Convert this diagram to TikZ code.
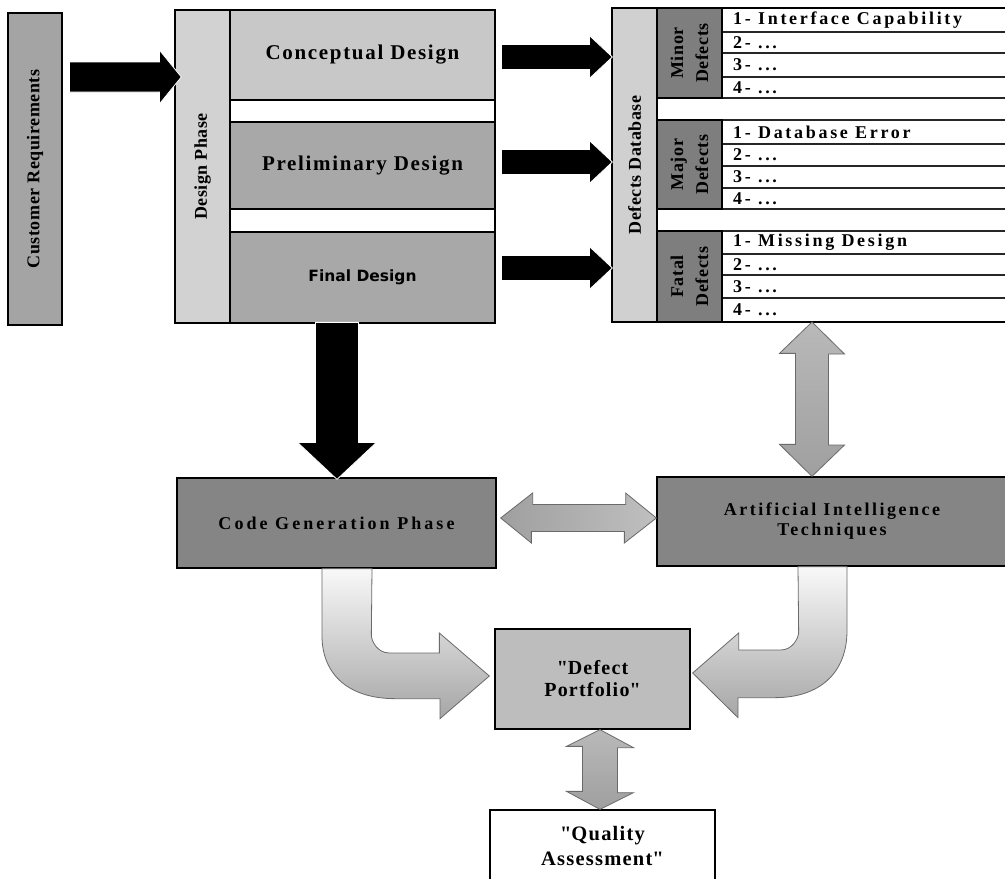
\documentclass[tikz,border=0pt]{standalone}
\usepackage{fontspec}
\setmainfont{Liberation Serif}
\newfontfamily\finalfont{DejaVu Sans}
\usetikzlibrary{calc}
\newcommand{\sq}{\XeTeXglyph\XeTeXcharglyph"22\relax}
\definecolor{crgray}{HTML}{A4A4A4}
\definecolor{lightcol}{HTML}{D2D2D2}
\definecolor{concol}{HTML}{C8C8C8}
\definecolor{midcol}{HTML}{A8A8A8}
\definecolor{darkcol}{HTML}{7E7E7E}
\definecolor{cgcol}{HTML}{858585}
\definecolor{pfcol}{HTML}{BDBDBD}
\definecolor{edgecol}{HTML}{6A6A6A}
\tikzset{
  box/.style={draw=black, line width=1.3pt, inner sep=0pt, anchor=center},
  vlbl/.style={rotate=90, font=\fontsize{18}{25}\selectfont\bfseries\addfontfeature{LetterSpace=3}, align=center, inner sep=0pt},
  rowtxt/.style={anchor=west, inner sep=0pt, font=\fontsize{18}{20}\selectfont\bfseries\addfontfeature{LetterSpace=15}},
  bigtxt/.style={font=\fontsize{21}{23}\selectfont\bfseries\addfontfeature{LetterSpace=8}},
  blk/.style={fill=black, draw=white, line width=0.8pt, line join=miter},
  grayarrowH/.style={draw=edgecol, line width=0.8pt, shading=axis, left color=gray!75, middle color=gray!15, right color=gray!50},
  grayarrowV/.style={draw=edgecol, line width=0.8pt, shading=axis, top color=gray!55, middle color=gray!15, bottom color=gray!75},
  bentarrow/.style={draw=edgecol, line width=0.8pt, shading=axis, top color=gray!5, bottom color=gray!70},
  rowline/.style={line width=1.4pt, draw=black!85},
}
\begin{document}
\begin{tikzpicture}[x=1pt,y=-1pt]
\fill[white] (0,0) rectangle (1005,879);
\useasboundingbox (0,0) rectangle (1005,879);

% ---------- Customer requirements ----------
\node[box, fill=crgray, minimum width=54pt, minimum height=312pt] (cr) at (35,169) {};
\node[vlbl] (crl) at (cr.center) {Customer Requirements};

% ---------- Design phase ----------
\node[box, fill=lightcol, minimum width=55pt, minimum height=313pt] (dp) at (202.5,166.5) {};
\node[vlbl] (dpl) at (dp.center) {Design Phase};
\draw[line width=1.3pt] (230,10) rectangle (495,323);
\node[box, fill=concol, minimum width=265pt, minimum height=90pt, bigtxt] (cd) at (362.5,55) {Conceptual Design};
\node[box, fill=midcol, minimum width=265pt, minimum height=87pt, bigtxt] (pd) at (362.5,165.5) {Preliminary Design};
\node[box, fill=midcol, minimum width=265pt, minimum height=91pt,
      font=\finalfont\fontsize{15.5}{17}\selectfont\bfseries] (fd) at (362.5,277.5) {Final Design};

% ---------- Defects database ----------
\node[box, fill=lightcol!105!white, minimum width=45pt, minimum height=314pt] (ddb) at (634.5,165) {};
\node[vlbl] (ddbl) at (ddb.center) {Defects Database};
\foreach \y in {8,32,53,77,98,120,144,166,188,209,231,254,275,298,322}
  \draw[rowline] (657,\y) -- (1006,\y);
\node[box, fill=darkcol, minimum width=65pt, minimum height=90pt] (minor) at (689.5,53) {};
\node[vlbl] (minorl) at (minor.center) {Minor\\Defects};
\node[box, fill=darkcol, minimum width=65pt, minimum height=89pt] (major) at (689.5,164.5) {};
\node[vlbl] (majorl) at (major.center) {Major\\Defects};
\node[box, fill=darkcol, minimum width=65pt, minimum height=91pt] (fatal) at (689.5,276.5) {};
\node[vlbl] (fatall) at (fatal.center) {Fatal\\Defects};

\node[rowtxt] (r11) at (733,20)    {1- Interface Capability};
\node[rowtxt] (r12) at (733,42.5)  {2- ...};
\node[rowtxt] (r13) at (733,65)    {3- ...};
\node[rowtxt] (r14) at (733,87.5)  {4- ...};
\node[rowtxt] (r21) at (733,132)   {1- Database Error};
\node[rowtxt] (r22) at (733,155)   {2- ...};
\node[rowtxt] (r23) at (733,177)   {3- ...};
\node[rowtxt] (r24) at (733,198.5) {4- ...};
\node[rowtxt] (r31) at (733,242.5) {1- Missing Design};
\node[rowtxt] (r32) at (733,264.5) {2- ...};
\node[rowtxt] (r33) at (733,286.5) {3- ...};
\node[rowtxt] (r34) at (733,310)   {4- ...};
\draw[line width=1.3pt] (612,8) -- (1006,8) (612,322) -- (1006,322) (612,8) -- (612,322);

% ---------- lower boxes ----------
\node[box, fill=cgcol, minimum width=319pt, minimum height=90pt,
      font=\fontsize{18}{20}\selectfont\bfseries\addfontfeature{LetterSpace=17}] (cg) at (336.5,523) {Code Generation Phase};
\node[box, fill=cgcol, minimum width=350pt, minimum height=89pt, align=center,
      font=\fontsize{18}{20}\selectfont\bfseries\addfontfeature{LetterSpace=14}] (ai) at (832,521.5) {Artificial Intelligence\\Techniques};
\node[box, fill=pfcol, minimum width=195pt, minimum height=100pt, align=center,
      font=\fontsize{20}{22}\selectfont\bfseries\addfontfeature{LetterSpace=6}] (pf) at (592.5,679) {\sq Defect\\Portfolio\sq};
\node[box, fill=white, minimum width=225pt, minimum height=72pt, align=center,
      font=\fontsize{20.5}{25}\selectfont\bfseries\addfontfeature{LetterSpace=6}] (qa) at (602.5,846) {\sq Quality\\Assessment\sq};

% ---------- black arrows ----------
\coordinate (t0) at ($(dp.west)+(7,-89.5)$);
\draw[blk] (t0) -- ++(-22,-27) -- ++(0,12) -- ++(-90,0) -- ++(0,30) -- ++(90,0) -- ++(0,12) -- cycle;
\coordinate (t1) at ($(ddb.west)+(1,-108)$);
\coordinate (t2) at ($(ddb.west)+(1,-3)$);
\coordinate (t3) at ($(ddb.west)+(1,103)$);
\foreach \t in {t1,t2,t3}
  \draw[blk] (\t) -- ++(-23,-21.5) -- ++(0,9) -- ++(-88,0) -- ++(0,25) -- ++(88,0) -- ++(0,9) -- cycle;
\coordinate (t4) at ($(cg.north)+(0.5,2)$);
\draw[blk] (t4) -- ++(-39.5,-37) -- ++(18,0) -- ++(0,-120) -- ++(43,0) -- ++(0,120) -- ++(18,0) -- cycle;

% ---------- gray double arrows ----------
\coordinate (h1) at ($(cg.east)+(4,-5)$);
\coordinate (h2) at ($(ai.west)+(0,-3.5)$);
\draw[grayarrowH] (h1) -- ++(32,-25) -- ++(0,11.5) -- ++(93,0) -- ++(0,-11.5) -- (h2)
   -- ++(-32,25) -- ++(0,-11.5) -- ++(-93,0) -- ++(0,11.5) -- cycle;
\coordinate (v1) at (812,322);
\coordinate (v2) at (ai.north -| v1);
\draw[grayarrowV] (v1) -- ++(32.5,32) -- ++(-16,0) -- ++(0,91) -- ++(16,0) -- (v2)
   -- ++(-32.5,-32) -- ++(16,0) -- ++(0,-91) -- ++(-16,0) -- cycle;
\coordinate (w1) at ($(pf.south)+(7.5,0)$);
\coordinate (w2) at ($(qa.north)+(-2.5,0)$);
\draw[grayarrowV] (w1) -- ++(33.5,18) -- ++(-16,0) -- ++(0,45) -- ++(16,0) -- (w2)
   -- ++(-33.5,-18) -- ++(16,0) -- ++(0,-45) -- ++(-16,0) -- cycle;

% ---------- bent arrows ----------
\coordinate (b1) at ($(cg.south)+(-14.5,0)$);
\coordinate (b1t) at ($(pf.west)+(-5,-3)$);
\draw[bentarrow] (b1) -- ++(0,67) .. controls +(0,40) and +(-45,0) .. ++(73,63) -- ++(45,0)
   -- ++(0,20) -- (b1t) -- ++(-50,-43) -- ++(0,20) -- ++(-50,0)
   .. controls +(-12,0) and +(0,6) .. ++(-18,-18) -- ($(b1)+(50,0)$) -- cycle;
\coordinate (b2) at ($(ai.south)+(15,0)$);
\coordinate (b2t) at ($(pf.east)+(2,-6)$);
\draw[bentarrow] (b2) -- ++(0,64) .. controls +(0,42) and +(45,0) .. ++(-72,67) -- ++(-37,0)
   -- ++(0,20) -- (b2t) -- ++(46,-40) -- ++(0,17) -- ++(42,0)
   .. controls +(12,0) and +(0,6) .. ++(18,-18) -- ($(b2)+(-49,0)$) -- cycle;
\end{tikzpicture}
\end{document}
